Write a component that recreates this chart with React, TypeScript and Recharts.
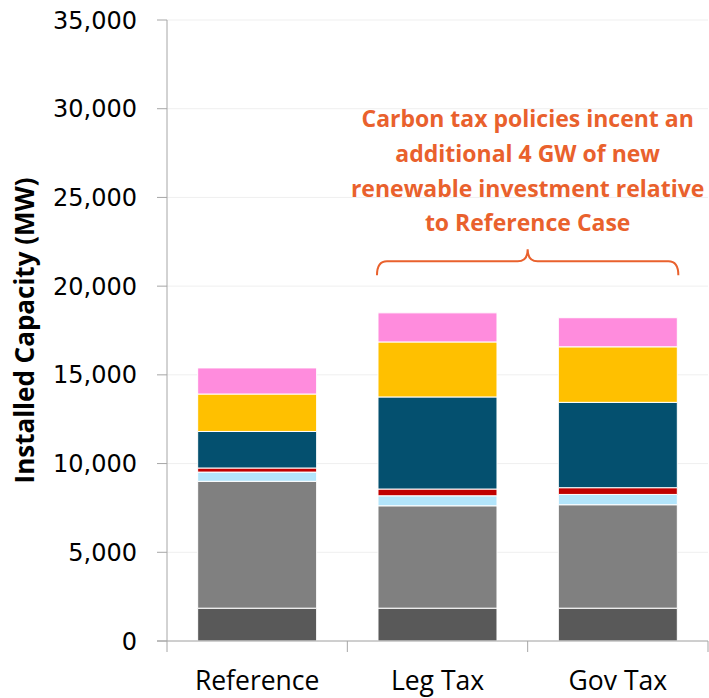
import React from 'react';
import { BarChart, Bar, XAxis, YAxis, CartesianGrid, ReferenceLine, Label } from 'recharts';

const categories = ['Reference', 'Leg Tax', 'Gov Tax'];
const baseDark = [1850, 1850, 1850];
const baseGray = [7150, 5770, 5830];
const lightBlue = [520, 565, 580];
const redBand = [230, 380, 380];
const darkBlue = [2060, 5190, 4810];
const yellow = [2110, 3100, 3130];
const pink = [1470, 1640, 1640];
const yTicks = [0, 5000, 10000, 15000, 20000, 25000, 30000, 35000];
const noteLines = [
  'Carbon tax policies incent an',
  'additional 4 GW of new',
  'renewable investment relative',
  'to Reference Case',
];
const braceValue = 21400;

const W = 709;
const H = 698;
const LEFT = 167;
const RIGHT = 1;
const TOP = 20;
const XH = 57;
const BAND = (W - LEFT - RIGHT) / categories.length;
const AXIS = '#a6a6a6';
const ORANGE = '#E9612D';

const data = categories.map((c, i) => ({
  name: c,
  baseDark: baseDark[i],
  baseGray: baseGray[i],
  lightBlue: lightBlue[i],
  redBand: redBand[i],
  darkBlue: darkBlue[i],
  yellow: yellow[i],
  pink: pink[i],
}));

const series = [
  { key: 'baseDark', color: '#595959' },
  { key: 'baseGray', color: '#808080' },
  { key: 'lightBlue', color: '#B3E5FB' },
  { key: 'redBand', color: '#C00000' },
  { key: 'darkBlue', color: '#04506F' },
  { key: 'yellow', color: '#FFC000' },
  { key: 'pink', color: '#FF8CDD' },
];

const XTick = (props: any) => {
  const { x, y, payload, index } = props;
  const off = payload && payload.offset && payload.offset > 10 ? payload.offset : BAND / 2;
  return (
    <g>
      <line x1={x - off} x2={x - off} y1={y} y2={y + 11} stroke={AXIS} strokeWidth={1} />
      {index === categories.length - 1 && (
        <line x1={x + off} x2={x + off} y1={y} y2={y + 11} stroke={AXIS} strokeWidth={1} />
      )}
      {index === 0 && <line x1={x - off - 10} x2={x - off} y1={y} y2={y} stroke={AXIS} strokeWidth={1} />}
      <text
        x={x}
        y={y + 49}
        textAnchor="middle"
        fontFamily="'Open Sans', sans-serif"
        fontSize={26.5}
        fill="#000"
      >
        {payload.value}
      </text>
    </g>
  );
};

const Brace = (props: any) => {
  const { x1, x2, y1 } = props;
  if (x1 == null || x2 == null || y1 == null) return null;
  const ext = BAND * 0.66 / 2 + 1;
  const xl = x1 - ext;
  const xr = x2 + ext;
  const xm = (xl + xr) / 2;
  const y = y1;
  const d = `M ${xl} ${y + 14} Q ${xl} ${y} ${xl + 10} ${y} L ${xm - 10} ${y} Q ${xm} ${y} ${xm} ${y - 12} Q ${xm} ${y} ${xm + 10} ${y} L ${xr - 10} ${y} Q ${xr} ${y} ${xr} ${y + 14}`;
  return (
    <g>
      <path d={d} fill="none" stroke={ORANGE} strokeWidth={2} />
      {noteLines.map((t, i) => (
        <text
          key={i}
          x={xm}
          y={y - 134 + i * 34.7}
          textAnchor="middle"
          fontFamily="'Open Sans', sans-serif"
          fontWeight={700}
          fontSize={23}
          fill={ORANGE}
        >
          {t}
        </text>
      ))}
    </g>
  );
};

export default function App() {
  return (
    <div style={{ position: 'absolute', left: 0, top: 0, width: W, height: H, background: '#fff' }}>
      <BarChart
        width={W}
        height={H}
        data={data}
        margin={{ top: TOP, right: RIGHT, bottom: 0, left: 0 }}
        barCategoryGap="17%"
      >
        <CartesianGrid vertical={false} stroke="#efefef" strokeWidth={1} />
        <XAxis
          dataKey="name"
          height={XH}
          tickLine={false}
          tickSize={0}
          tickMargin={0}
          axisLine={{ stroke: AXIS, strokeWidth: 1 }}
          tick={<XTick />}
          interval={0}
        />
        <YAxis
          width={LEFT}
          domain={[0, 35000]}
          ticks={yTicks}
          interval={0}
          tickSize={10}
          tickMargin={20}
          tickLine={{ stroke: AXIS, strokeWidth: 1 }}
          axisLine={{ stroke: AXIS, strokeWidth: 1 }}
          tickFormatter={(v: number) => v.toLocaleString('en-US')}
          tick={{ fontFamily: "'DejaVu Sans', sans-serif", fontSize: 24, fill: '#000' }}
        >
          <Label
            content={(p: any) => {
              const vb = p.viewBox || {};
              const cy = (vb.y ?? TOP) + (vb.height ?? 621) / 2;
              const cx = 24;
              return (
                <text
                  x={cx}
                  y={cy}
                  transform={`rotate(-90, ${cx}, ${cy})`}
                  textAnchor="middle"
                  dominantBaseline="central"
                  fontFamily="'Open Sans', sans-serif"
                  fontWeight={700}
                  fontSize={26}
                  fill="#000"
                >
                  Installed Capacity (MW)
                </text>
              );
            }}
          />
        </YAxis>
        {series.map((s) => (
          <Bar
            key={s.key}
            dataKey={s.key}
            stackId="a"
            fill={s.color}
            stroke="#ffffff"
            strokeWidth={1}
            isAnimationActive={false}
          />
        ))}
        <ReferenceLine
          segment={[
            { x: 'Leg Tax', y: braceValue },
            { x: 'Gov Tax', y: braceValue },
          ]}
          ifOverflow="visible"
          shape={<Brace />}
        />
      </BarChart>
    </div>
  );
}
